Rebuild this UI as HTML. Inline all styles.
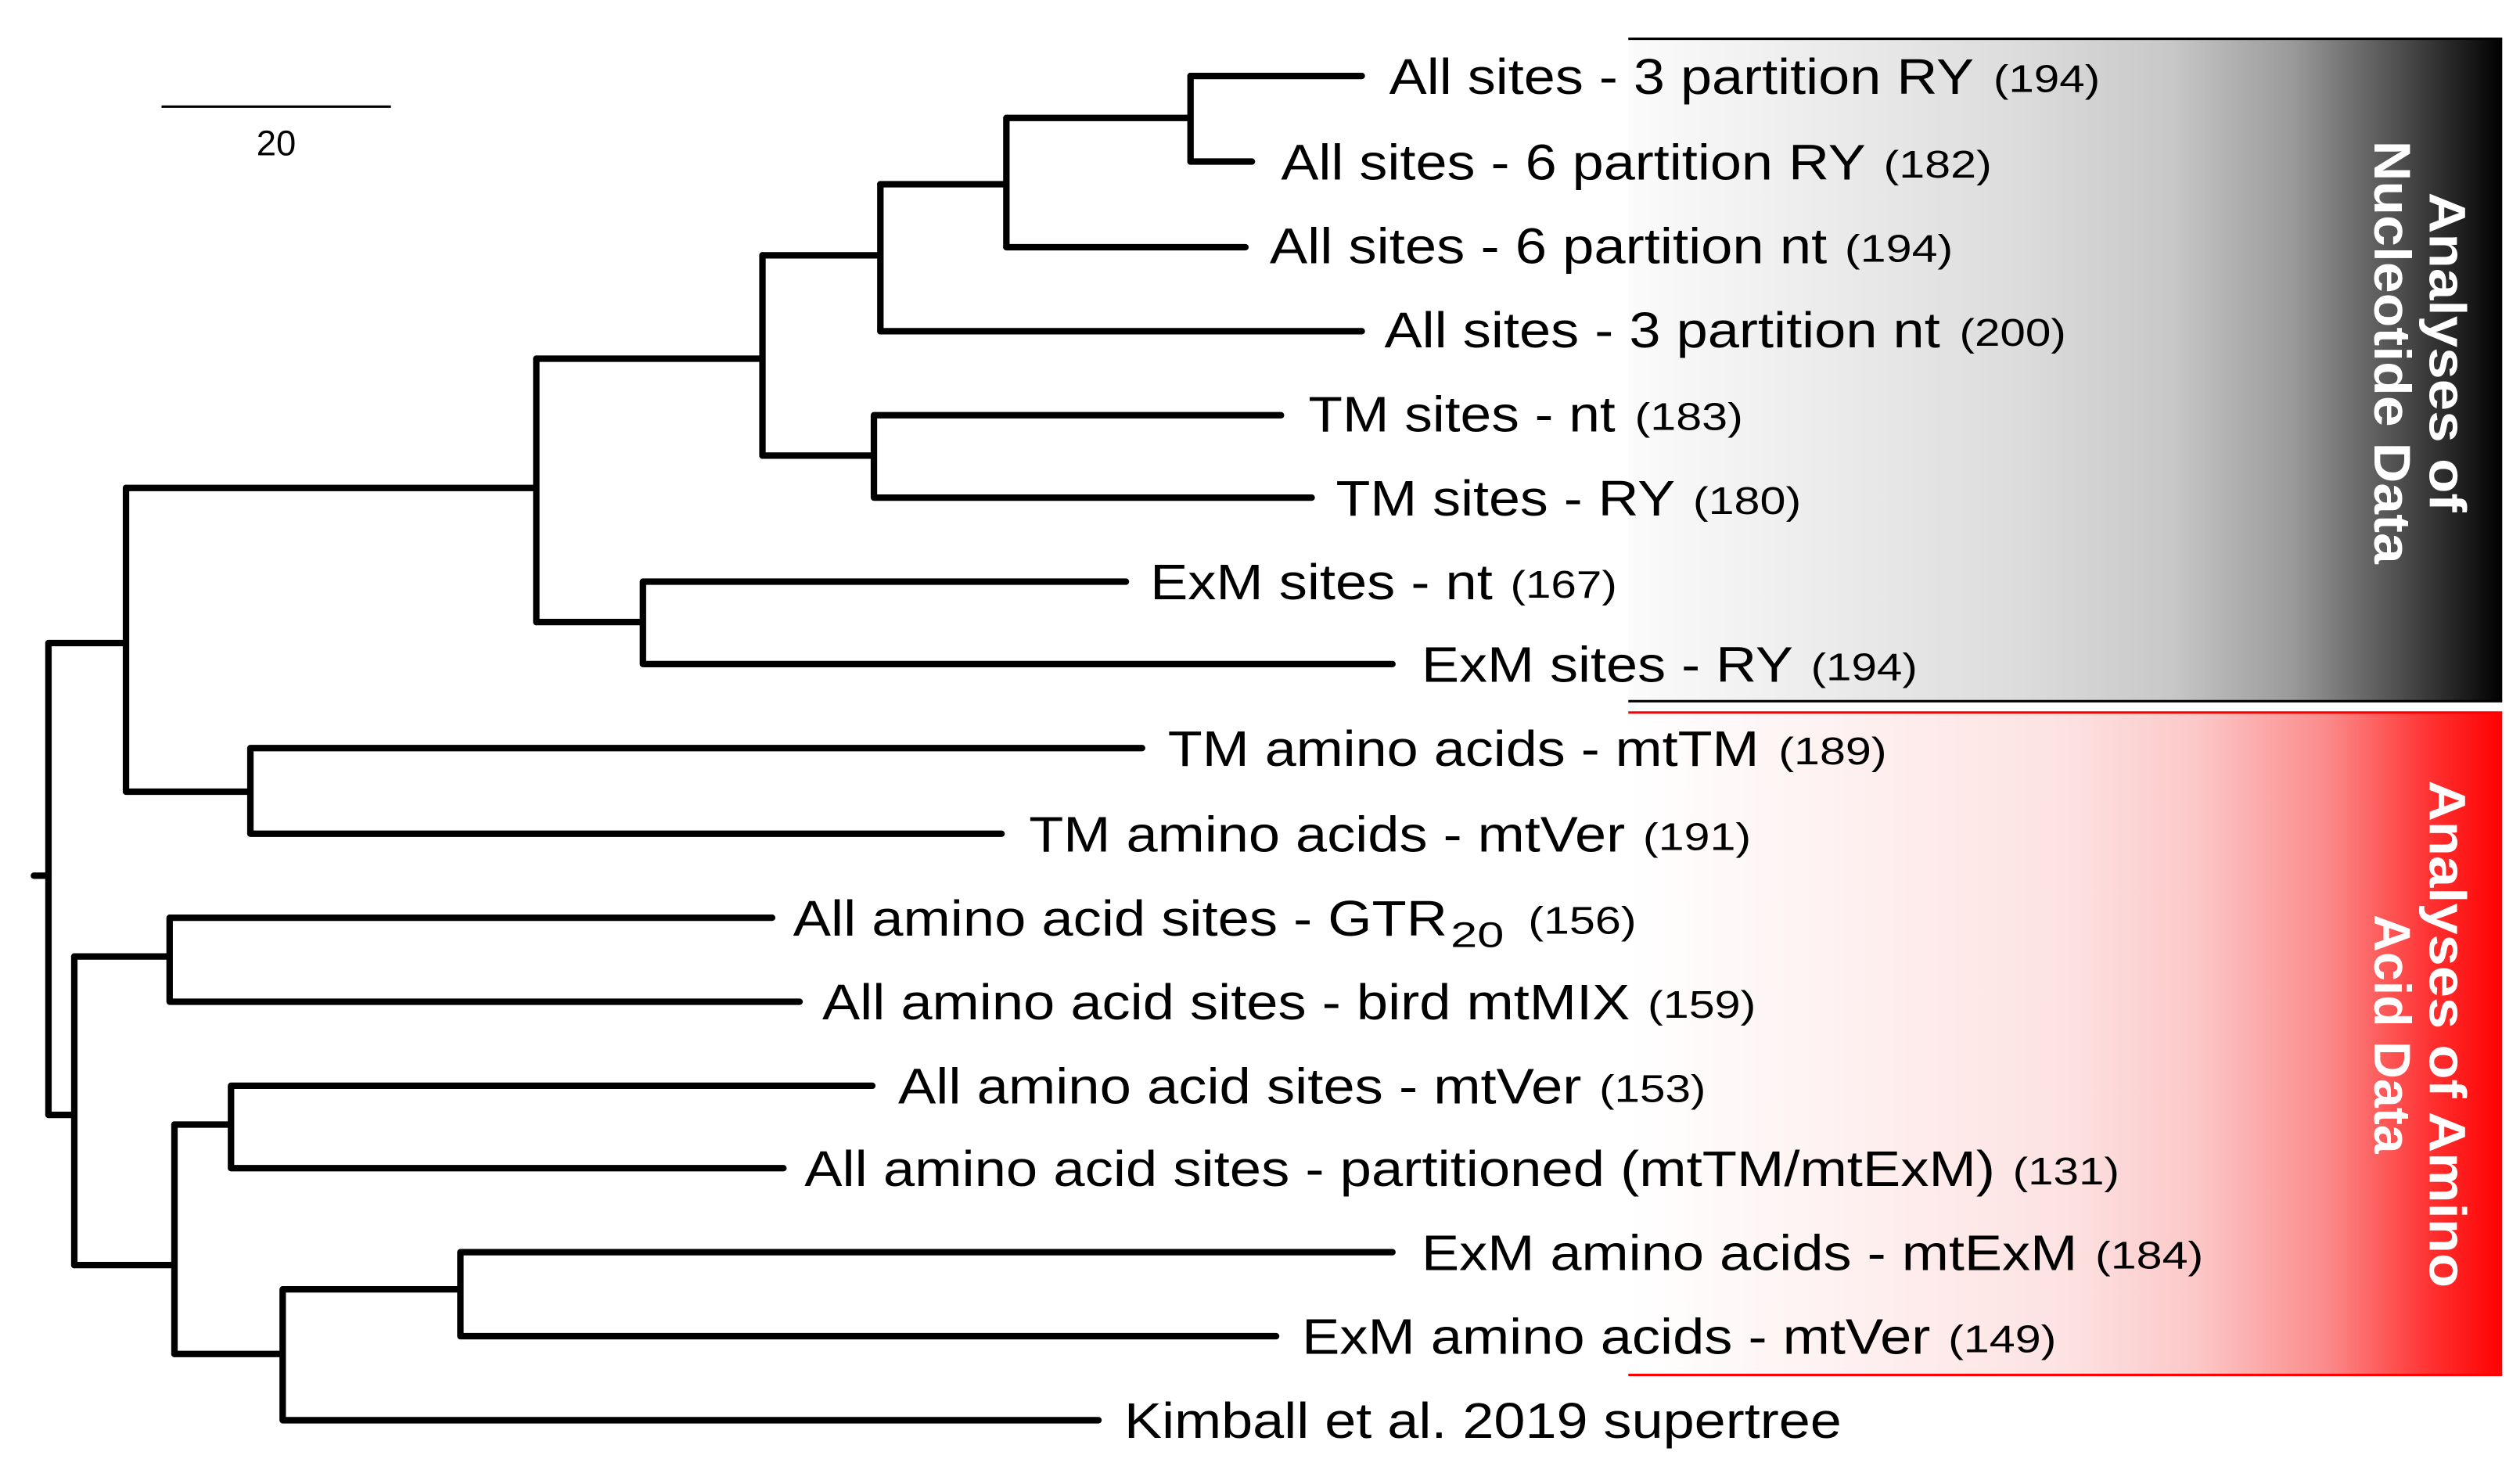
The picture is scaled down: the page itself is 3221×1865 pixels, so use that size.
<!DOCTYPE html>
<html><head><meta charset="utf-8"><style>
html,body{margin:0;padding:0;background:#fff;}
svg{display:block;}
text{font-family:"Liberation Sans",Arial,sans-serif;}
</style></head><body>
<svg width="3221" height="1865" viewBox="0 0 1560 903" preserveAspectRatio="none" xmlns="http://www.w3.org/2000/svg">
<defs>
<linearGradient id="g1" x1="0" x2="1" y1="0" y2="0">
<stop offset="0" stop-color="#fbfbfb"/><stop offset="0.45" stop-color="#dcdcdc"/><stop offset="0.62" stop-color="#c8c8c8"/><stop offset="0.76" stop-color="#9a9a9a"/><stop offset="0.88" stop-color="#505050"/><stop offset="1" stop-color="#000"/>
</linearGradient>
<linearGradient id="g2" x1="0" x2="1" y1="0" y2="0">
<stop offset="0" stop-color="#ffffff"/><stop offset="0.5" stop-color="#fde2e2"/><stop offset="0.65" stop-color="#fcc8c8"/><stop offset="0.8" stop-color="#fb8a8a"/><stop offset="0.92" stop-color="#ff3030"/><stop offset="1" stop-color="#ff0000"/>
</linearGradient>
</defs>
<rect x="1008" y="24" width="541" height="410" fill="url(#g1)"/>
<line x1="1008" y1="24" x2="1549" y2="24" stroke="#000" stroke-width="1.5"/>
<line x1="1008" y1="434" x2="1549" y2="434" stroke="#000" stroke-width="1.5"/>
<rect x="1008" y="441" width="541" height="410" fill="url(#g2)"/>
<line x1="1008" y1="441" x2="1549" y2="441" stroke="#f00" stroke-width="1.5"/>
<line x1="1008" y1="851" x2="1549" y2="851" stroke="#f00" stroke-width="1.5"/>

<g transform="translate(1500,218) rotate(90)" fill="#fff" font-weight="bold" font-size="32" text-anchor="middle">
<text x="0" y="-4" textLength="198" lengthAdjust="spacingAndGlyphs">Analyses of</text>
<text x="0" y="30" textLength="262" lengthAdjust="spacingAndGlyphs">Nucleotide Data</text>
</g>
<g transform="translate(1500,640) rotate(90)" fill="#fff" font-weight="bold" font-size="32" text-anchor="middle">
<text x="0" y="-4" textLength="314" lengthAdjust="spacingAndGlyphs">Analyses of Amino</text>
<text x="0" y="30" textLength="148" lengthAdjust="spacingAndGlyphs">Acid Data</text>
</g>

<line x1="100" y1="66" x2="242" y2="66" stroke="#000" stroke-width="1.5"/>
<text x="171" y="96" font-size="22" text-anchor="middle">20</text>

<g stroke="#000" stroke-width="4" fill="none" stroke-linecap="round" stroke-linejoin="miter">
<path d="M21 542 H30"/>
<path d="M30 398 V690"/>
<path d="M30 398 H78 M78 302 V490"/>
<path d="M78 302 H332 M332 222 V385"/>
<path d="M332 222 H472 M472 158 V282"/>
<path d="M472 158 H545 M545 114 V205"/>
<path d="M545 114 H623 M623 73 V153"/>
<path d="M623 73 H737 M737 47 V100"/>
<path d="M737 47 H843 M737 100 H775"/>
<path d="M623 153 H771"/>
<path d="M545 205 H843"/>
<path d="M472 282 H541 M541 257 V308 M541 257 H793 M541 308 H812"/>
<path d="M332 385 H398 M398 360 V411 M398 360 H697 M398 411 H862"/>
<path d="M78 490 H155 M155 463 V516 M155 463 H707 M155 516 H620"/>
<path d="M30 690 H46 M46 592 V783"/>
<path d="M46 592 H105 M105 568 V620 M105 568 H478 M105 620 H495"/>
<path d="M46 783 H108 M108 696 V838"/>
<path d="M108 696 H143 M143 672 V723 M143 672 H540 M143 723 H485"/>
<path d="M108 838 H175 M175 798 V879 M175 798 H285 M285 775 V827 M285 775 H862 M285 827 H790 M175 879 H680"/>
</g>

<g font-size="31" fill="#000">
<text x="860" y="58" textLength="362" lengthAdjust="spacingAndGlyphs">All sites - 3 partition RY</text>
<text x="793" y="111" textLength="362" lengthAdjust="spacingAndGlyphs">All sites - 6 partition RY</text>
<text x="786" y="163" textLength="345" lengthAdjust="spacingAndGlyphs">All sites - 6 partition nt</text>
<text x="857" y="215" textLength="344" lengthAdjust="spacingAndGlyphs">All sites - 3 partition nt</text>
<text x="810" y="267" textLength="190" lengthAdjust="spacingAndGlyphs">TM sites - nt</text>
<text x="827" y="319" textLength="210" lengthAdjust="spacingAndGlyphs">TM sites - RY</text>
<text x="712" y="371" textLength="212" lengthAdjust="spacingAndGlyphs">ExM sites - nt</text>
<text x="880" y="422" textLength="230" lengthAdjust="spacingAndGlyphs">ExM sites - RY</text>
<text x="723" y="474" textLength="366" lengthAdjust="spacingAndGlyphs">TM amino acids - mtTM</text>
<text x="637" y="527" textLength="369" lengthAdjust="spacingAndGlyphs">TM amino acids - mtVer</text>
<text x="491" y="579" textLength="405" lengthAdjust="spacingAndGlyphs">All amino acid sites - GTR</text>
<text x="898" y="586" font-size="22" textLength="33" lengthAdjust="spacingAndGlyphs">20</text>
<text x="509" y="631" textLength="500" lengthAdjust="spacingAndGlyphs">All amino acid sites - bird mtMIX</text>
<text x="556" y="683" textLength="423" lengthAdjust="spacingAndGlyphs">All amino acid sites - mtVer</text>
<text x="498" y="734" textLength="737" lengthAdjust="spacingAndGlyphs">All amino acid sites - partitioned (mtTM/mtExM)</text>
<text x="880" y="786" textLength="406" lengthAdjust="spacingAndGlyphs">ExM amino acids - mtExM</text>
<text x="806" y="838" textLength="389" lengthAdjust="spacingAndGlyphs">ExM amino acids - mtVer</text>
<text x="696" y="890" textLength="444" lengthAdjust="spacingAndGlyphs">Kimball et al. 2019 supertree</text>
</g>
<g font-size="24" fill="#000">
<text x="1234" y="57" textLength="66" lengthAdjust="spacingAndGlyphs">(194)</text>
<text x="1166" y="110" textLength="67" lengthAdjust="spacingAndGlyphs">(182)</text>
<text x="1142" y="162" textLength="67" lengthAdjust="spacingAndGlyphs">(194)</text>
<text x="1213" y="214" textLength="66" lengthAdjust="spacingAndGlyphs">(200)</text>
<text x="1012" y="266" textLength="67" lengthAdjust="spacingAndGlyphs">(183)</text>
<text x="1048" y="318" textLength="67" lengthAdjust="spacingAndGlyphs">(180)</text>
<text x="935" y="370" textLength="66" lengthAdjust="spacingAndGlyphs">(167)</text>
<text x="1121" y="421" textLength="66" lengthAdjust="spacingAndGlyphs">(194)</text>
<text x="1101" y="473" textLength="67" lengthAdjust="spacingAndGlyphs">(189)</text>
<text x="1017" y="526" textLength="67" lengthAdjust="spacingAndGlyphs">(191)</text>
<text x="946" y="578" textLength="67" lengthAdjust="spacingAndGlyphs">(156)</text>
<text x="1020" y="630" textLength="67" lengthAdjust="spacingAndGlyphs">(159)</text>
<text x="990" y="682" textLength="66" lengthAdjust="spacingAndGlyphs">(153)</text>
<text x="1246" y="733" textLength="66" lengthAdjust="spacingAndGlyphs">(131)</text>
<text x="1297" y="785" textLength="67" lengthAdjust="spacingAndGlyphs">(184)</text>
<text x="1206" y="837" textLength="67" lengthAdjust="spacingAndGlyphs">(149)</text>
</g>
</svg>
</body></html>
